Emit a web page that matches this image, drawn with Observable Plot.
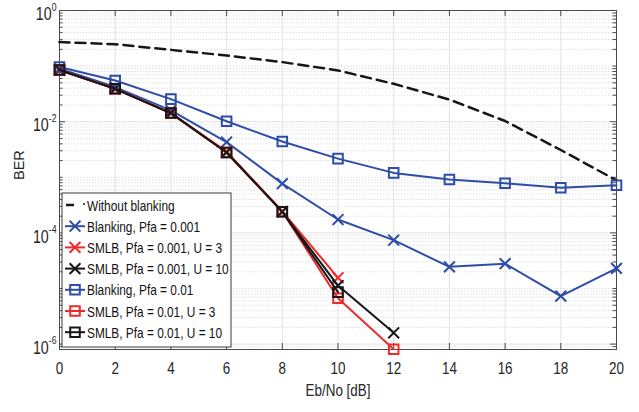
<!DOCTYPE html>
<html><head><meta charset="utf-8">
<script src="https://cdn.jsdelivr.net/npm/d3@7"></script>
<script src="https://cdn.jsdelivr.net/npm/@observablehq/plot@0.6"></script>
<style>body{margin:0;background:#fff} svg{display:block}</style>
</head><body><div id="chart"></div>
<script>
// ---- data ----
const ebno = [0, 2, 4, 6, 8, 10, 12, 14, 16, 18, 20];
const withoutBlanking = [0.27, 0.248, 0.196, 0.155, 0.118, 0.0836, 0.048, 0.025, 0.0103, 0.0031, 0.00088];
const blankingPfa001 = [0.09, 0.042, 0.016, 0.0043, 0.00077, 1.74e-4, 7.4e-5, 2.45e-5, 2.8e-5, 7.3e-6, 2.3e-5];
const smlbPfa001U3 = [0.085, 0.039, 0.0143, 0.0029, 2.45e-4, 1.56e-5];
const smlbPfa001U10 = [0.085, 0.039, 0.0143, 0.0028, 2.4e-4, 1.13e-5, 1.6e-6];
const blankingPfa01 = [0.096, 0.055, 0.0255, 0.0102, 0.0044, 0.00217, 0.0012, 0.00091, 0.00078, 0.00065, 0.00072];
const smlbPfa01U3 = [0.085, 0.039, 0.0143, 0.0028, 2.4e-4, 6.7e-6, 8.1e-7];
const smlbPfa01U10 = [0.085, 0.039, 0.0143, 0.0028, 2.4e-4, 8.6e-6];

const seriesNames = ["Without blanking", "Blanking, Pfa = 0.001", "SMLB, Pfa = 0.001, U = 3", "SMLB, Pfa = 0.001, U = 10",
  "Blanking, Pfa = 0.01", "SMLB, Pfa = 0.01, U = 3", "SMLB, Pfa = 0.01, U = 10"];
const seriesValues = [withoutBlanking, blankingPfa001, smlbPfa001U3, smlbPfa001U10, blankingPfa01, smlbPfa01U3, smlbPfa01U10];

const xTicks = [0, 2, 4, 6, 8, 10, 12, 14, 16, 18, 20];
const yTicks = [1, 1e-2, 1e-4, 1e-6];
const yTickExponents = ["0", "-2", "-4", "-6"];
const xLabel = "Eb/No [dB]";
const yLabel = "BER";

// ---- styles ----
const BLUE = "#2E4DA7", RED = "#EE2A2A", BLACK = "#161616";
const styles = [
  {color: BLACK, symbol: null, dash: "10,6", width: 2.5},
  {color: BLUE, symbol: "times"},
  {color: RED, symbol: "times"},
  {color: BLACK, symbol: "times"},
  {color: BLUE, symbol: "square"},
  {color: RED, symbol: "square"},
  {color: BLACK, symbol: "square"}
];

const W = 639, H = 412, mL = 59, mR = 23, mT = 10, mB = 63;
const innerW = W - mL - mR, innerH = H - mT - mB;
const SX = 0.79; // horizontal squeeze of text

const series = seriesNames.map((name, k) => ({name, ...styles[k],
  rows: seriesValues[k].map((v, i) => ({x: ebno[i], y: v}))}));

// minor grid values
const minor = [];
for (let e = -7; e <= -1; e++) for (let m = 1; m <= 9; m++) {
  const v = m * Math.pow(10, e);
  if (v >= 8e-7 && v < 1 && !(m === 1 && e % 2 === 0)) minor.push(v);
}

const FRAME = "#4a4a4a";
const marks = [
  Plot.ruleY(minor, {y: d => d, stroke: "#d8d8d8", strokeDasharray: "1.5,1.5", strokeWidth: 0.8}),
  Plot.ruleX(xTicks, {x: d => d, stroke: "#e2e2e2", strokeWidth: 1}),
  Plot.ruleY(yTicks, {y: d => d, stroke: "#e2e2e2", strokeWidth: 1}),
  // inward ticks
  Plot.tickX(xTicks, {x: d => d, insetTop: innerH - 6, stroke: FRAME}),
  Plot.tickX(xTicks, {x: d => d, insetBottom: innerH - 6, stroke: FRAME}),
  Plot.tickY(yTicks, {y: d => d, insetRight: innerW - 6, stroke: FRAME}),
  Plot.tickY(yTicks, {y: d => d, insetLeft: innerW - 6, stroke: FRAME}),
  Plot.tickY(minor, {y: d => d, insetRight: innerW - 3.5, stroke: FRAME}),
  Plot.tickY(minor, {y: d => d, insetLeft: innerW - 3.5, stroke: FRAME}),
  Plot.frame({stroke: FRAME, strokeWidth: 1}),
  Plot.axisX(xTicks, {tickSize: 0, tickPadding: 12, fontSize: 17, label: null}),
  Plot.axisY(yTicks, {tickSize: 0, tickPadding: 3, fontSize: 18, dy: 4, label: null,
    tickFormat: d => "10^" + yTickExponents[yTicks.indexOf(d)]}),
  Plot.text([xLabel], {frameAnchor: "bottom", lineAnchor: "middle", dy: 41, fontSize: 17}),
  Plot.text([yLabel], {frameAnchor: "left", dx: -40, rotate: -90, fontSize: 14.5})
];
for (const s of series) {
  marks.push(Plot.line(s.rows, {x: "x", y: "y", stroke: s.color, strokeWidth: s.width || 2,
    strokeDasharray: s.dash || null}));
  if (s.symbol) marks.push(Plot.dot(s.rows, {x: "x", y: "y", symbol: s.symbol, stroke: s.color,
    fill: "none", strokeWidth: 2, r: s.symbol === "square" ? 5.4 : 5}));
}

const chart = Plot.plot({
  width: W, height: H, marginLeft: mL, marginRight: mR, marginTop: mT, marginBottom: mB,
  style: {fontFamily: "'Liberation Sans', Arial, Helvetica, sans-serif", color: "#262626", background: "#fff"},
  x: {domain: [0, 20]},
  y: {type: "log", domain: [8e-7, 1]},
  marks
});
document.getElementById("chart").appendChild(chart);

const svg = d3.select(chart);

// superscripts for y tick labels
svg.selectAll('g[aria-label="y-axis tick label"] text').each(function() {
  const t = d3.select(this);
  const parts = t.text().split("^");
  t.text(null);
  t.append("tspan").text(parts[0]);
  t.append("tspan").attr("font-size", 11).attr("dy", -9.5).text(parts[1]);
});

// legend (drawn inside the plot frame)
const lg = svg.append("g").attr("font-family", "'Liberation Sans', Arial, sans-serif")
  .attr("font-size", 15).attr("fill", "#111").attr("text-anchor", "start");
const box = {x: 62, y: 193, w: 169, h: 154};
lg.append("rect").attr("x", box.x).attr("y", box.y).attr("width", box.w).attr("height", box.h)
  .attr("fill", "#fff").attr("stroke", "#3a3a3a").attr("stroke-width", 1);
series.forEach((s, i) => {
  const cy = 205 + i * 21.2;
  if (s.dash) {
    lg.append("line").attr("x1", 66).attr("x2", 74).attr("y1", cy).attr("y2", cy)
      .attr("stroke", s.color).attr("stroke-width", 2.5);
    lg.append("line").attr("x1", 83).attr("x2", 85).attr("y1", cy - 1).attr("y2", cy - 1)
      .attr("stroke", s.color).attr("stroke-width", 1.5);
  } else {
    lg.append("line").attr("x1", 65).attr("x2", 85).attr("y1", cy).attr("y2", cy)
      .attr("stroke", s.color).attr("stroke-width", 2);
    const r = s.symbol === "square" ? 5.4 : 5;
    const sym = s.symbol === "square" ? d3.symbolSquare : d3.symbolTimes;
    lg.append("path").attr("d", d3.symbol(sym, Math.PI * r * r)())
      .attr("transform", `translate(75,${cy})`).attr("fill", "none")
      .attr("stroke", s.color).attr("stroke-width", 2);
  }
  lg.append("text").attr("x", 87).attr("y", cy + 5.5).text(s.name);
});

// horizontal squeeze of all non-rotated text (keeps positions and anchors)
svg.selectAll("text").each(function() {
  if ((this.getAttribute("transform") || "").includes("rotate")) return;
  const len = this.getComputedTextLength();
  if (len > 0) {
    this.setAttribute("textLength", (len * SX).toFixed(2));
    this.setAttribute("lengthAdjust", "spacingAndGlyphs");
  }
});
</script>
</body></html>
